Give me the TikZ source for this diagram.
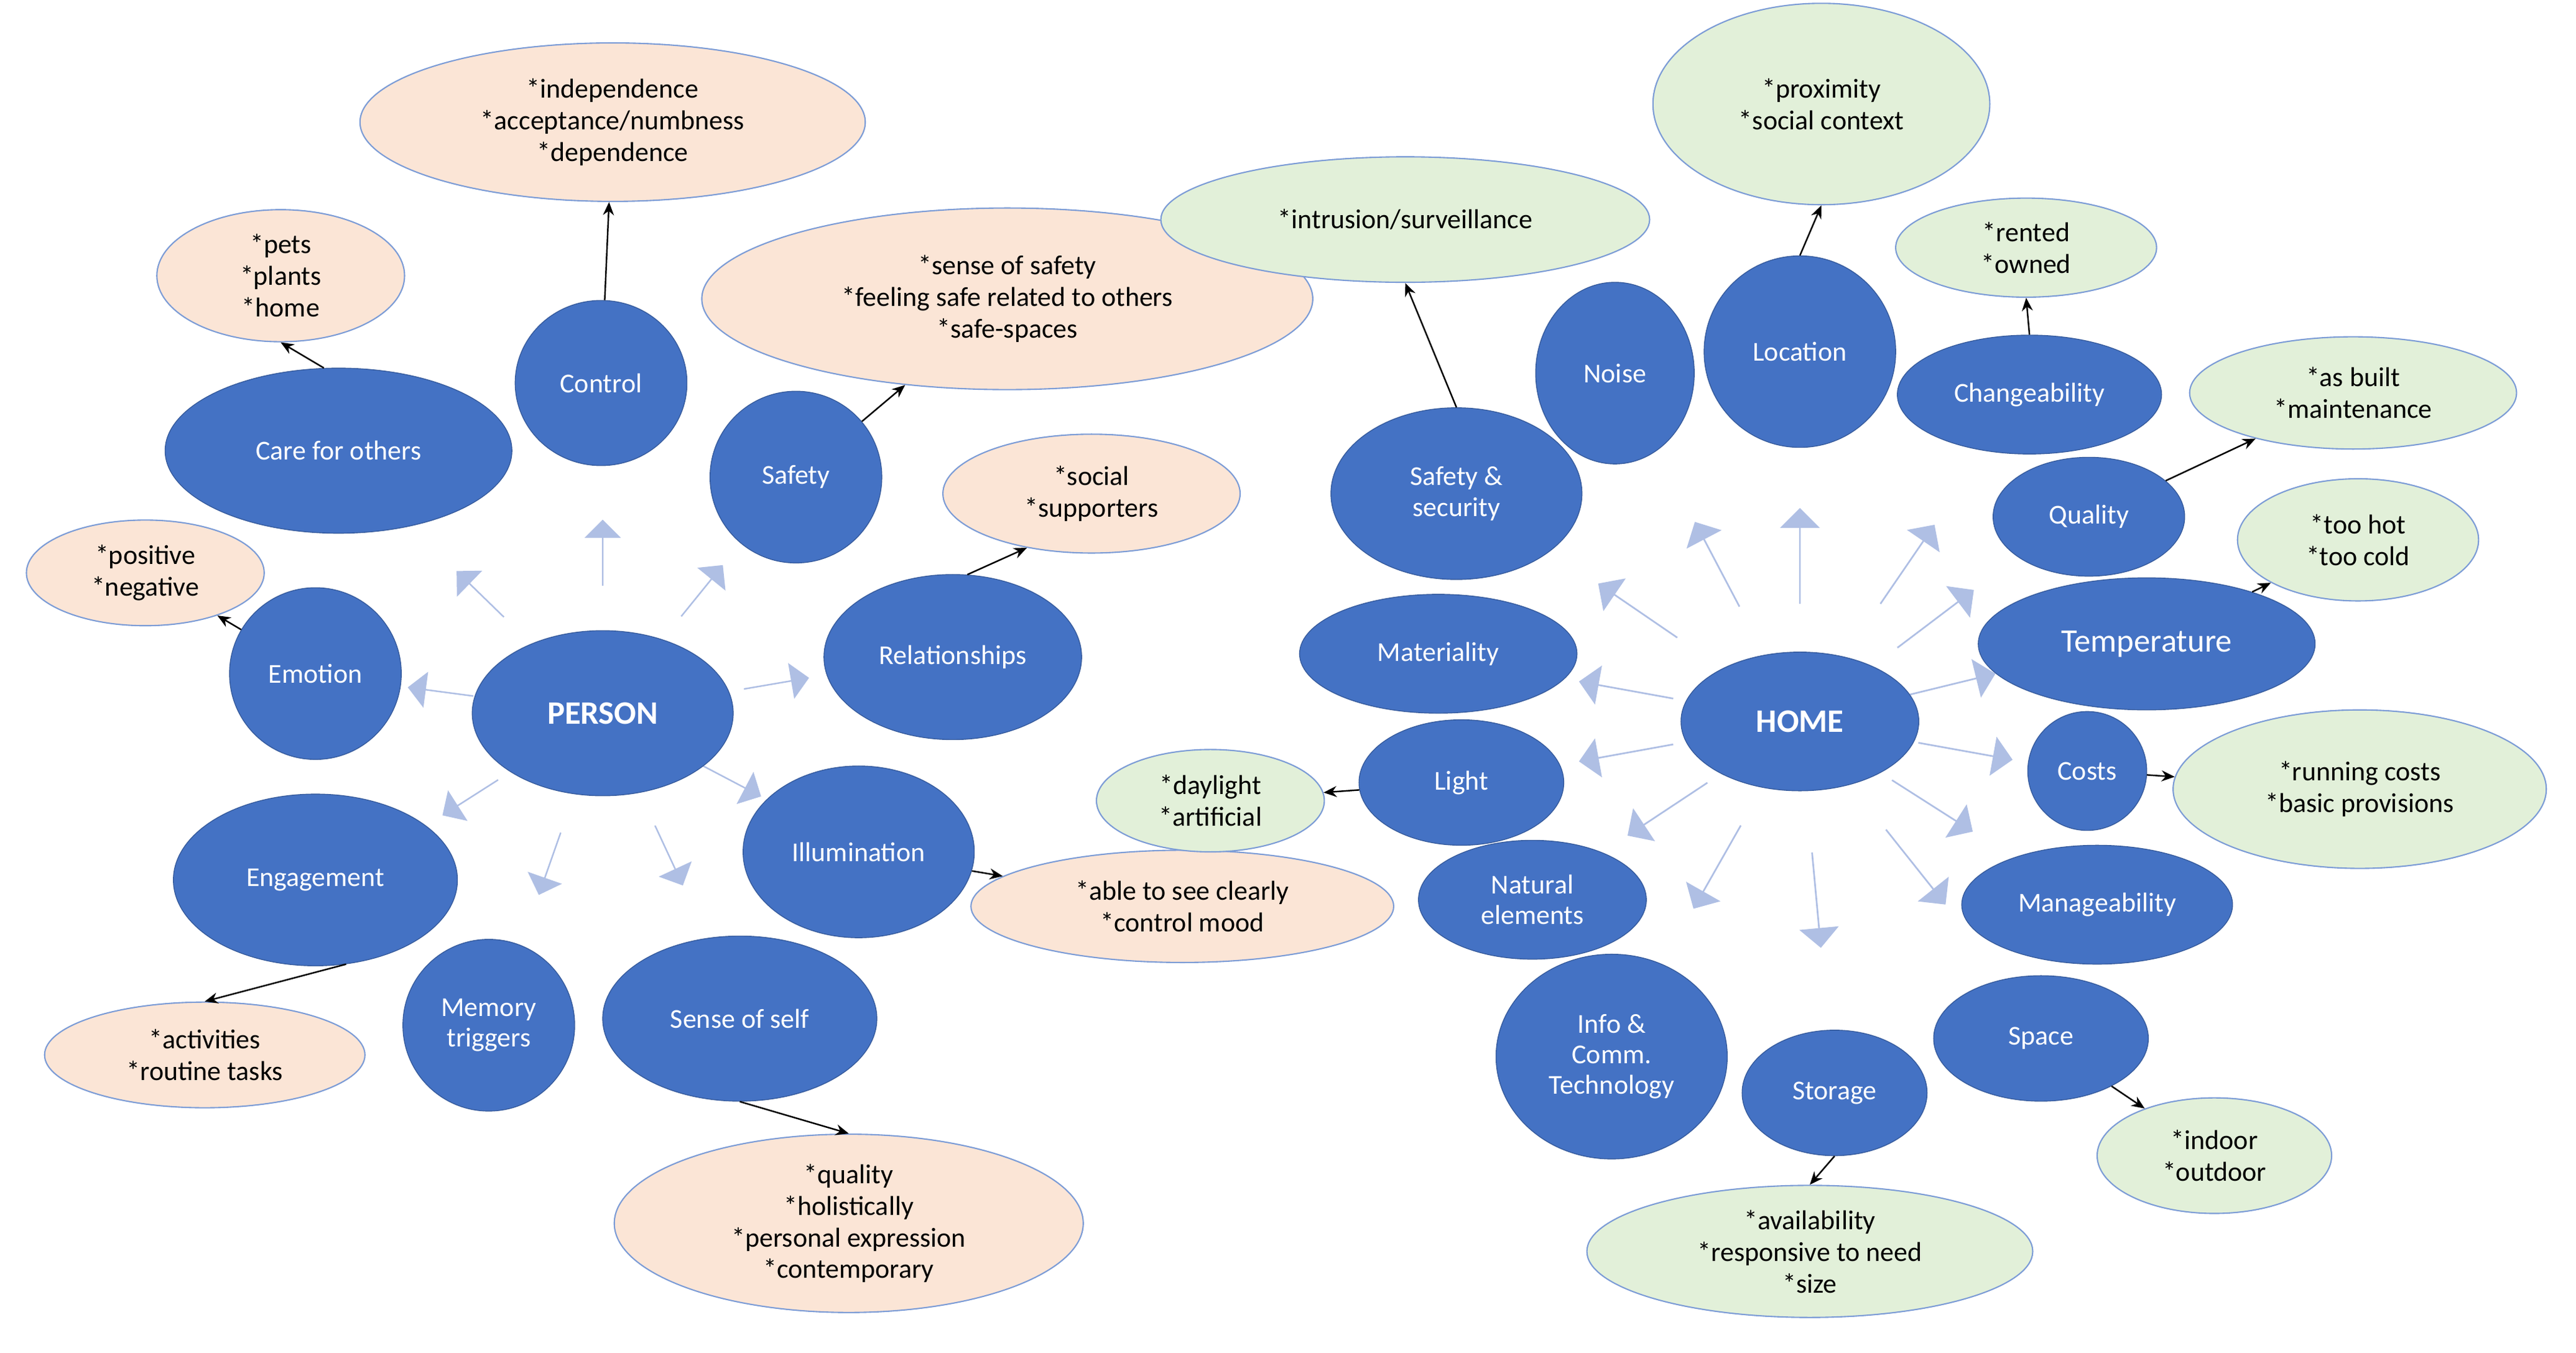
\documentclass[tikz,border=0pt]{standalone}
\usepackage{fontspec}
\setmainfont{Carlito}
\usetikzlibrary{shapes.geometric,shapes.arrows,arrows.meta}
\newdimen\U \U=0.02655cm
\definecolor{bl}{HTML}{4472C4}
\definecolor{pe}{HTML}{FBE5D6}
\definecolor{gr}{HTML}{E2F0D9}
\definecolor{la}{HTML}{AFBFE4}
\tikzset{
 b/.style={ellipse,fill=bl,draw=bl!80!black,line width=0.4pt,text=white,align=center,inner sep=0pt,font=\fontsize{12.5}{14}\selectfont},
 p/.style={ellipse,fill=pe,draw=bl!70,line width=0.6pt,align=center,inner sep=0pt,font=\fontsize{12.5}{14.5}\selectfont},
 g/.style={p,fill=gr},
 c/.style={-{Stealth[length=6pt,width=5pt]},line width=0.7pt},
 ba/.style={single arrow,fill=la,draw=none,inner sep=0pt,single arrow head extend=6\U,single arrow tip angle=90},
}
\begin{document}
\begin{tikzpicture}[x=\U,y=-\U]
\useasboundingbox (0,0) rectangle (1560,819.5);
% big arrows PERSON
\foreach \dx/\dy [count=\i] in {0/-97, -74/-72, 60/-74, -98/-13, 105/-18, -80/51, -32/91, 40/86, 78/41}{
  \pgfmathsetmacro\ang{atan2(-\dy,\dx)}
  \node[ba,minimum height=40\U,minimum width=22\U,rotate=\ang] (pa\i) at (365+\dx,432+\dy) {};
}
% big arrows HOME
\foreach \dx/\dy [count=\i] in {0/-100, -50/-95, 65/-95, -98/-67, 82/-62, -105/-19, 90/-22, -105/19, 100/18, -80/53, 80/51, -50/88, 10/108, 70/88}{
  \pgfmathsetmacro\ang{atan2(-\dy,\dx)}
  \node[ba,minimum height=58\U,minimum width=24\U,rotate=\ang] (ha\i) at (1090+\dx,437+\dy) {};
}
% PERSON side
\node[b,minimum width=158\U,minimum height=100\U,font=\fontsize{15}{17}\selectfont\bfseries] (person) at (365,432) {PERSON};
\node[b,minimum width=104\U,minimum height=100\U] (control) at (364,232) {Control};
\node[b,minimum width=210\U,minimum height=100\U] (care) at (205,273) {Care for others};
\node[b,minimum width=104\U,minimum height=104\U] (safety) at (482,289) {Safety};
\node[b,minimum width=156\U,minimum height=100\U] (rel) at (577,398) {Relationships};
\node[b,minimum width=104\U,minimum height=104\U] (emotion) at (191,408) {Emotion};
\node[b,minimum width=140\U,minimum height=104\U] (illum) at (520,516) {Illumination};
\node[b,minimum width=172\U,minimum height=104\U] (engage) at (191,533) {Engagement};
\node[b,minimum width=104\U,minimum height=104\U] (memory) at (296,621) {Memory\\triggers};
\node[b,minimum width=166\U,minimum height=100\U] (self) at (448,617) {Sense of self};
\node[p,minimum width=306\U,minimum height=96\U] (pind) at (371,74) {*independence\\*acceptance/numbness\\*dependence};
\node[p,minimum width=150\U,minimum height=80\U] (ppets) at (170,167) {*pets\\*plants\\*home};
\node[p,minimum width=370\U,minimum height=110\U] (psafe) at (610,181) {*sense of safety\\*feeling safe related to others\\*safe-spaces};
\node[p,minimum width=144\U,minimum height=64\U] (ppos) at (88,347) {*positive\\*negative};
\node[p,minimum width=180\U,minimum height=72\U] (psoc) at (661,299) {*social\\*supporters};
\node[p,minimum width=256\U,minimum height=68\U] (psee) at (716,549) {*able to see clearly\\*control mood};
\node[p,minimum width=194\U,minimum height=64\U] (pact) at (124,639) {*activities\\*routine tasks};
\node[p,minimum width=284\U,minimum height=108\U] (pqual) at (514,741) {*quality\\*holistically\\*personal expression\\*contemporary};
% HOME side
\node[b,minimum width=144\U,minimum height=84\U,font=\fontsize{15}{17}\selectfont\bfseries] (home) at (1090,437) {HOME};
\node[b,minimum width=96\U,minimum height=110\U] (noise) at (978,226) {Noise};
\node[b,minimum width=116\U,minimum height=116\U] (loc) at (1090,213) {Location};
\node[b,minimum width=160\U,minimum height=72\U] (change) at (1229,239) {Changeability};
\node[b,minimum width=152\U,minimum height=104\U] (sec) at (882,299) {Safety \&\\security};
\node[b,minimum width=116\U,minimum height=72\U] (quality) at (1265,313) {Quality};
\node[b,minimum width=204\U,minimum height=80\U,font=\fontsize{15}{17}\selectfont] (temp) at (1300,390) {Temperature};
\node[b,minimum width=168\U,minimum height=72\U] (mat) at (871,396) {Materiality};
\node[b,minimum width=124\U,minimum height=76\U] (light) at (885,474) {Light};
\node[b,minimum width=72\U,minimum height=72\U] (costs) at (1264,467) {Costs};
\node[b,minimum width=138\U,minimum height=72\U] (nat) at (928,545) {Natural\\elements};
\node[b,minimum width=164\U,minimum height=72\U] (manage) at (1270,548) {Manageability};
\node[b,minimum width=140\U,minimum height=124\U] (ict) at (976,640) {Info \&\\Comm.\\Technology};
\node[b,minimum width=112\U,minimum height=76\U] (storage) at (1111,662) {Storage};
\node[b,minimum width=130\U,minimum height=76\U] (space) at (1236,629) {Space};
\node[g,minimum width=204\U,minimum height=122\U] (gprox) at (1103,63) {*proximity\\*social context};
\node[g,minimum width=296\U,minimum height=76\U] (gintr) at (851,133) {*intrusion/surveillance};
\node[g,minimum width=158\U,minimum height=60\U] (grent) at (1227,150) {*rented\\*owned};
\node[g,minimum width=198\U,minimum height=68\U] (gbuilt) at (1425,238) {*as built\\*maintenance};
\node[g,minimum width=146\U,minimum height=74\U] (ghot) at (1428,327) {*too hot\\*too cold};
\node[g,minimum width=138\U,minimum height=62\U] (gday) at (733,485) {*daylight\\*artificial};
\node[g,minimum width=226\U,minimum height=96\U] (grun) at (1429,478) {*running costs\\*basic provisions};
\node[g,minimum width=142\U,minimum height=70\U] (gin) at (1341,700) {*indoor\\*outdoor};
\node[g,minimum width=270\U,minimum height=80\U] (gav) at (1096,758) {*availability\\*responsive to need\\*size};
% connectors
\draw[c] (care.100) -- (ppets.south);
\draw[c] (control) -- (pind);
\draw[c] (safety) -- (psafe);
\draw[c] (rel.80) -- (psoc.220);
\draw[c] (emotion) -- (ppos);
\draw[c] (engage.290) -- (pact.north);
\draw[c] (illum) -- (psee);
\draw[c] (self.south) -- (pqual.north);
\draw[c] (sec.north) -- (gintr.south);
\draw[c] (loc.north) -- (gprox.south);
\draw[c] (change.north) -- (grent.south);
\draw[c] (quality) -- (gbuilt);
\draw[c] (temp) -- (ghot);
\draw[c] (costs) -- (grun);
\draw[c] (light) -- (gday);
\draw[c] (space) -- (gin);
\draw[c] (storage.south) -- (gav.north);
\end{tikzpicture}
\end{document}
